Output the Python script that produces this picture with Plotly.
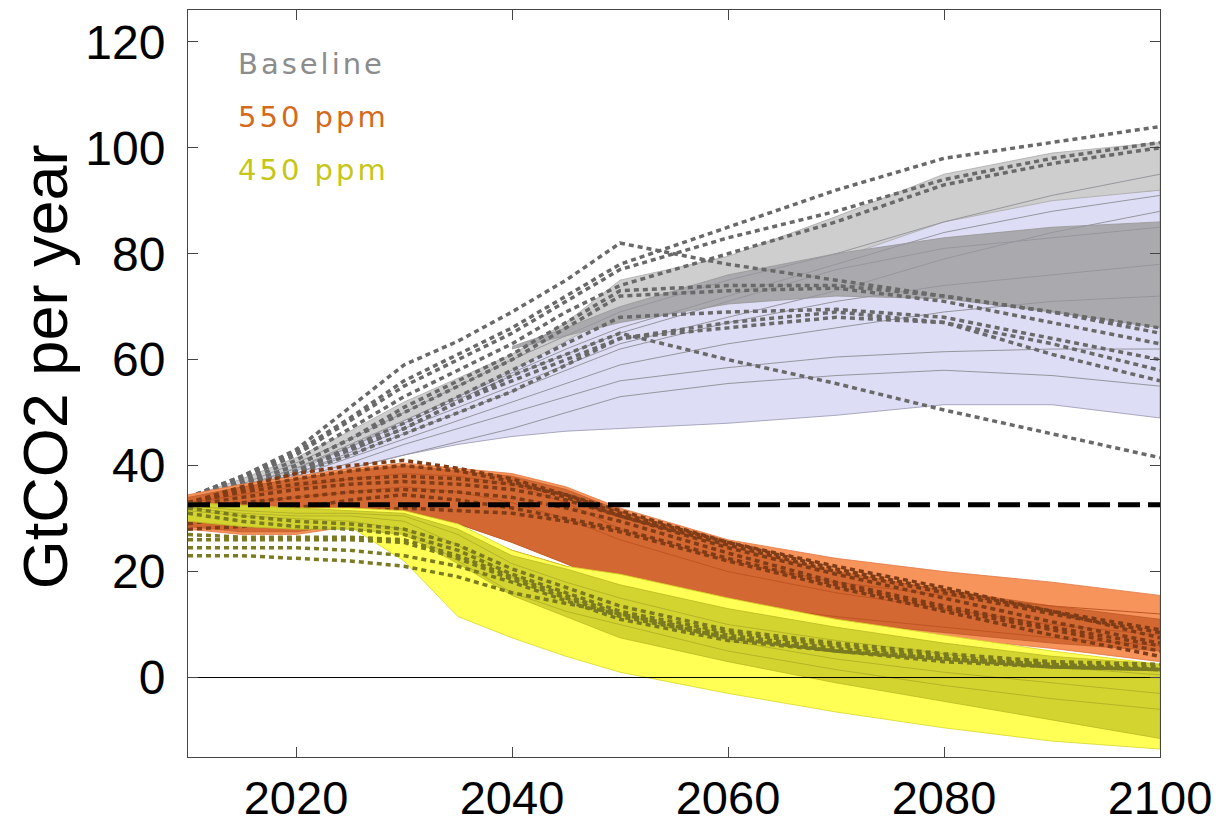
import plotly.graph_objects as go

# ---------------- data ----------------
years = [2010, 2015, 2020, 2025, 2030, 2035, 2040, 2045, 2050, 2060, 2070, 2080, 2090, 2100]
years_dark = [2040, 2045, 2050, 2060, 2070, 2080, 2090, 2100]

# Baseline ranges
lav_upper = [34, 36.5, 40.5, 45, 49.5, 54, 58.5, 63.5, 70, 77, 83, 88, 90.5, 92]
lav_lower = [33.5, 35, 37, 39.5, 42, 44, 45.5, 46.5, 47, 48, 49.5, 51.5, 51.5, 49]
gray_upper = [34, 37.5, 41.5, 46.5, 52, 56.5, 61, 67, 75, 79.5, 87, 95, 99, 101]
gray_lower = [33.5, 35.5, 39, 43.5, 48.5, 53, 58, 63.5, 69, 74, 79, 86, 90, 92]
dark_upper = [62.5, 66, 70, 76, 80, 83, 85, 86]
dark_lower = [62, 64.5, 67, 70.5, 72, 71.5, 69, 66]

baseline_thin = [
    [33.5, 36.5, 40.5, 45, 50, 55, 60, 64.5, 69, 75, 80, 86, 91, 95],
    [33.5, 36, 39.5, 44, 48.5, 53, 57.5, 62, 66, 72, 78, 84, 88, 91],
    [33.5, 35.5, 38.5, 42.5, 47, 51, 55, 59, 63, 68, 73, 79, 84, 88],
    [33.5, 36, 39.5, 43.5, 48, 52.5, 57, 61, 65, 71, 77, 81, 83, 85],
    [33.5, 35.5, 38.5, 42, 46, 50, 54, 58, 62, 67, 71, 74, 76, 78],
    [33.5, 35.5, 38, 41.5, 45, 48.5, 52, 55.5, 59, 63, 66, 69, 71, 72],
    [33.5, 35, 37.5, 40.5, 44, 47, 50, 53, 56, 58.5, 60.5, 61.5, 62, 62],
    [33.5, 35, 37, 39.5, 42, 44.5, 47, 50, 53, 55.5, 57, 58, 57, 55],
]
baseline_dotted = [
    [34, 38, 43, 51, 59, 63.5, 69, 75, 82, 78, 75, 72, 69, 66],
    [34, 38, 42.5, 49, 56, 61, 66, 72, 78, 85, 92, 98, 101, 104],
    [34, 37.5, 42, 48.5, 55, 60, 65, 71, 77, 83, 88, 94, 98, 101],
    [34, 37, 41, 47, 53, 58, 63, 69, 74, 80, 86, 93, 97, 100],
    [34, 36.5, 40, 45, 51, 56, 61, 67, 73, 74, 74, 72, 69, 65],
    [34, 36.5, 40, 45, 50, 55, 60, 66, 72, 73, 73.5, 71, 67, 63],
    [34, 36, 39, 43.5, 48, 53, 58, 63, 68, 69, 69.5, 68, 64, 60],
    [34, 36, 38.5, 42, 46, 50, 54, 59, 64, 66, 68, 67, 63, 58],
    [34, 36, 39, 43, 47, 52, 56, 60, 64, 67, 69, 67, 61, 56],
    [34, 36, 39, 43, 47, 52, 57, 61, 65, 60, 55.5, 50.5, 46, 41.5],
]

# 550 ppm ranges
o_light_upper = [34.5, 36.5, 38, 39.5, 40.5, 39.5, 38.5, 36, 32, 26, 22.5, 20, 18, 15.5]
o_light_lower = [28, 27, 27, 28.5, 31.5, 29, 25.5, 21.5, 17, 12.5, 9.5, 7.5, 5.5, 3]
o_dark_upper = [34, 36, 37.5, 39, 40, 39, 38, 35.5, 31.5, 25, 20, 16.5, 13.5, 11]
o_dark_lower = [28.5, 27.5, 27.5, 29, 31.5, 29, 25.5, 21.5, 17, 13, 10.5, 8.5, 6.5, 5]
ppm550_thin = [
    [33, 34.5, 36, 37.5, 38.5, 38, 36.5, 33, 28, 22, 18, 15.5, 13.5, 12],
    [32, 33, 34, 35, 36, 35, 33, 30, 26, 20, 16, 13, 10, 8],
    [30, 30, 30.5, 31, 31.5, 28, 24, 21, 18, 14, 11.5, 9.5, 7.5, 6],
]
ppm550_dotted = [
    [33, 36, 38.5, 40, 41, 39.5, 37.5, 34.5, 31, 25.5, 20.5, 16.5, 12.5, 9],
    [33, 35.5, 37.5, 39, 40, 39, 37, 34, 30.5, 25, 20, 16, 12, 8.5],
    [33, 35, 36.5, 37.5, 38, 37.5, 36.5, 34.5, 31.5, 25.5, 21, 17, 12.5, 7.5],
    [32.5, 34, 35.5, 36.5, 37, 36.5, 35.5, 33.5, 30.5, 24.5, 19.5, 15, 10.5, 6.5],
    [32, 33, 34, 35, 35.5, 35, 34, 32, 29.5, 23.5, 18, 13.5, 9.5, 6],
    [29, 30.5, 32, 33.5, 34.5, 33.5, 32, 30, 28, 22.5, 17.5, 13, 9, 5],
    [28, 28.5, 29.5, 31, 32, 31.5, 31, 29.5, 27.5, 22, 17, 12.5, 8, 4],
]

# 450 ppm ranges
y_bright_upper = [33, 32.5, 32, 32, 31.5, 29, 24, 21, 19.5, 15, 11, 8, 5, 2.5]
y_bright_lower = [31, 29.5, 28.5, 28.5, 22, 11.5, 7.5, 4, 1, -3, -6.5, -9.5, -12, -13.5]
y_olive_upper = [33, 32.5, 32, 31.5, 31, 28, 23, 20.5, 17.5, 13, 9.5, 6.5, 4, 2.5]
y_olive_lower = [29.5, 28.5, 28, 28, 27, 21.5, 15.5, 11.5, 7.5, 3, -1, -4.5, -8, -11.5]
ppm450_thin = [
    [32, 31, 30.5, 30.5, 29.5, 25, 19, 15, 12, 7, 3.5, 1, -1, -3],
    [31.5, 30.5, 30, 29.5, 28, 22, 16, 12.5, 10, 5, 1.5, -1.5, -4, -6],
    [32.5, 31.5, 31, 31, 30.5, 27, 21.5, 18, 15, 10, 7, 4.5, 2, 0.5],
]
ppm450_dotted = [
    [32, 30.5, 29.5, 29, 28, 25, 20.5, 17, 13.5, 9, 6.5, 4.5, 3, 2.5],
    [31, 29.5, 28.5, 28, 27, 24, 19.5, 16, 12.5, 8.5, 6, 4, 2.5, 2],
    [27, 26.5, 26.5, 26.5, 26, 23, 19, 15.5, 12, 8, 5.5, 3.5, 2.5, 1.5],
    [26, 26, 26, 26, 25.5, 22.5, 18.5, 15, 11.5, 7.5, 5, 3.5, 2, 1.5],
    [24.5, 24.5, 24.5, 24, 23, 21, 18, 14.5, 11, 7, 5, 3, 2, 1.5],
    [23, 23, 22.5, 22, 21, 19, 16, 14, 12, 7.5, 5, 3.5, 2, 1.5],
]

ref_level = 32.6
zero_level = 0
x_ticks = [2020, 2040, 2060, 2080, 2100]
y_ticks = [0, 20, 40, 60, 80, 100, 120]
legend_labels = ["Baseline", "550 ppm", "450 ppm"]

# ---------------- figure ----------------
fig = go.Figure()


def band(x, upper, lower, fill, edge):
    fig.add_trace(go.Scatter(
        x=list(x) + list(x)[::-1], y=list(upper) + list(lower)[::-1],
        fill="toself", fillcolor=fill, mode="lines",
        line=dict(color=edge, width=0.8), hoverinfo="skip", showlegend=False))


def series(x, y, color, width, dash="solid"):
    fig.add_trace(go.Scatter(
        x=x, y=y, mode="lines", line=dict(color=color, width=width, dash=dash),
        hoverinfo="skip", showlegend=False))


# Baseline
band(years, lav_upper, lav_lower, "rgb(221,221,245)", "rgb(150,150,175)")
band(years, gray_upper, gray_lower, "rgb(206,206,206)", "rgb(170,170,170)")
band(years_dark, dark_upper, dark_lower, "rgb(170,170,174)", "rgb(150,150,150)")
for s in baseline_thin:
    series(years, s, "rgb(150,150,158)", 1)
for s in baseline_dotted:
    series(years, s, "rgb(105,105,105)", 3.5, "5px,4px")

# 550 ppm
band(years, o_light_upper, o_light_lower, "rgb(246,148,92)", "rgb(225,120,70)")
band(years, o_dark_upper, o_dark_lower, "rgb(212,104,50)", "rgb(190,90,40)")
for s in ppm550_thin:
    series(years, s, "rgb(190,85,35)", 1)
for s in ppm550_dotted:
    series(years, s, "rgb(128,60,22)", 3.5, "5px,4px")

# 450 ppm
band(years, y_bright_upper, y_bright_lower, "rgb(255,255,85)", "rgb(215,215,40)")
band(years, y_olive_upper, y_olive_lower, "rgb(212,212,48)", "rgb(185,185,35)")
for s in ppm450_thin:
    series(years, s, "rgb(180,180,40)", 1)
for s in ppm450_dotted:
    series(years, s, "rgb(122,122,32)", 3.5, "5px,4px")

# reference lines
series([years[0], years[-1]], [zero_level, zero_level], "black", 1)
series([years[0], years[-1]], [ref_level, ref_level], "black", 5, "22px,8px")

# legend-like labels
legend_colors = ["rgb(140,140,140)", "rgb(212,106,28)", "rgb(198,198,22)"]
legend_y = [0.928, 0.857, 0.786]
for lab, col, yy in zip(legend_labels, legend_colors, legend_y):
    fig.add_annotation(
        text='<span style="letter-spacing:3px">' + lab + '</span>',
        xref="paper", yref="paper", x=0.049, y=yy, xanchor="left", yanchor="middle",
        showarrow=False, font=dict(family="DejaVu Sans", size=29, color=col))

fig.add_annotation(
    text="GtCO2 per year", xref="paper", yref="paper", x=-0.147, y=0.522,
    xanchor="center", yanchor="middle", textangle=-90, showarrow=False,
    font=dict(family="Liberation Sans, Arial", size=63, color="black"))

axis_common = dict(
    showgrid=False, zeroline=False, ticks="inside", ticklen=10, tickwidth=1,
    tickcolor="#444", showline=True, linecolor="#444", linewidth=1, mirror="ticks",
    layer="above traces", automargin=False)

# page body has an 8px offset; size the figure so the plot area lands where the reference has it
fig.update_layout(
    width=1222, height=818,
    margin=dict(l=180, r=70, t=2, b=69, autoexpand=False),
    paper_bgcolor="white", plot_bgcolor="white",
    showlegend=False,
    xaxis=dict(range=[2010, 2100], tickvals=x_ticks, ticklabelstandoff=0,
               tickfont=dict(family="Liberation Sans, Arial", size=47, color="black"),
               **axis_common),
    yaxis=dict(range=[-15, 126], tickvals=y_ticks, ticklabelstandoff=12,
               tickfont=dict(family="Liberation Sans, Arial", size=48, color="black"),
               **axis_common),
)

fig.write_html("out.html")
